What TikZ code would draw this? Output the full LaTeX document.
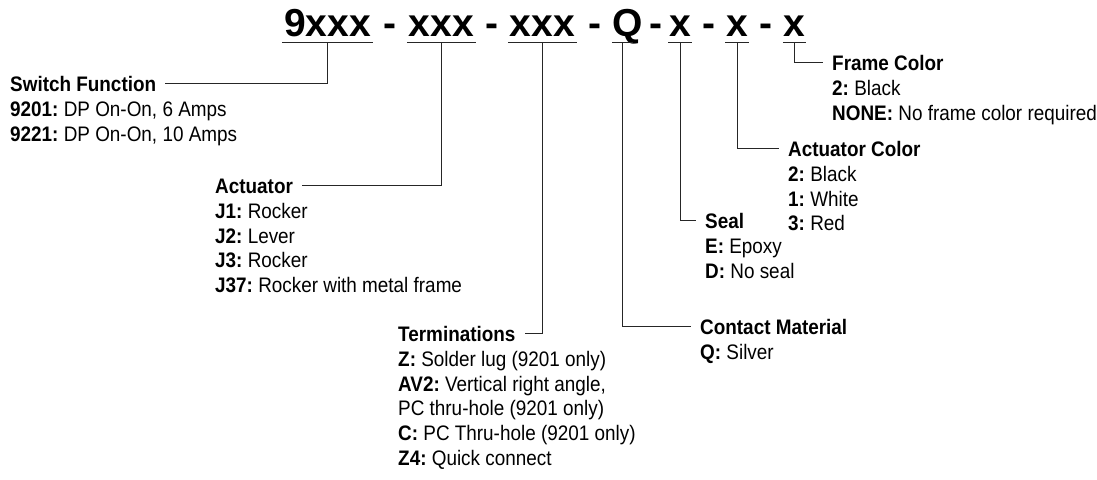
\documentclass[tikz,border=0pt]{standalone}
\usepackage{fontspec}
\setmainfont[FakeStretch=0.9]{Liberation Sans}
\newfontfamily\codefont{Liberation Sans}
\usetikzlibrary{positioning}

\newcommand{\bodysize}{\fontsize{21}{24.7}\selectfont\frenchspacing}

\tikzset{
  codepart/.style={font=\codefont\fontsize{39}{39}\selectfont\bfseries,
    inner sep=0pt, text height=28pt, text depth=0pt, anchor=south, align=center},
  codedash/.style={font=\codefont\fontsize{39}{39}\selectfont\bfseries,
    inner sep=0pt, text depth=0pt, anchor=south},
  hdr/.style={font=\bodysize\bfseries, inner xsep=9pt, inner ysep=0pt,
    text height=15pt, text depth=0pt, anchor=base west},
  optlist/.style={font=\bodysize, inner xsep=9pt, inner ysep=0pt, align=left},
  conn/.style={draw=black!85, line width=1pt}
}

\begin{document}
\begin{tikzpicture}
\useasboundingbox (0,0) rectangle (1097pt,-479pt);

% part number
\node[codepart, text width=91pt] (s1) at (327.5pt,-37pt) {9xxx};
\node[codepart, text width=69pt] (s2) at (441.5pt,-37pt) {xxx};
\node[codepart, text width=69pt] (s3) at (542.5pt,-37pt) {xxx};
\node[codepart, text width=21pt] (s4) at (622.5pt,-37pt) {Q};
\node[codepart, text width=23pt] (s5) at (680pt,-37pt) {x};
\node[codepart, text width=23pt] (s6) at (737pt,-37pt) {x};
\node[codepart, text width=23pt] (s7) at (794.5pt,-37pt) {x};
\foreach \a/\b/\d in {s1/s2/0,s2/s3/0,s3/s4/0,s4/s5/5,s5/s6/0,s6/s7/0}
  \path (\a.south east) -- (\b.south west) node[midway, codedash, xshift=\d pt] {-};
\foreach \s in {s1,s2,s3,s4,s5,s6,s7}
  \draw[conn] ([yshift=-5pt]\s.south west) -- ([yshift=-5pt]\s.south east);

% left fields (list anchor = baseline of its last line)
\node[hdr] (func) at (1pt,-91pt) {Switch Function};
\node[optlist, below=50.2pt of func.base west, anchor=base west] (funclist)
  {\textbf{9201:} DP On-On, 6 Amps\\\textbf{9221:} DP On-On, 10 Amps};

\node[hdr] (act) at (206pt,-193pt) {Actuator};
\node[optlist, below=99.6pt of act.base west, anchor=base west] (actlist)
  {\textbf{J1:} Rocker\\\textbf{J2:} Lever\\\textbf{J3:} Rocker\\\textbf{J37:} Rocker with metal frame};

\node[hdr] (term) at (389pt,-341pt) {Terminations};
\node[optlist, below=124.3pt of term.base west, anchor=base west] (termlist)
  {\textbf{Z:} Solder lug (9201 only)\\\textbf{AV2:} Vertical right angle,\\PC thru-hole (9201 only)\\\textbf{C:} PC Thru-hole (9201 only)\\\textbf{Z4:} Quick connect};

% right fields
\node[hdr] (cont) at (691pt,-334pt) {Contact Material};
\node[optlist, below=25.5pt of cont.base west, anchor=base west] (contlist)
  {\textbf{Q:} Silver};

\node[hdr] (seal) at (696pt,-228pt) {Seal};
\node[optlist, below=50.2pt of seal.base west, anchor=base west] (seallist)
  {\textbf{E:} Epoxy\\\textbf{D:} No seal};

\node[hdr] (acol) at (779pt,-156pt) {Actuator Color};
\node[optlist, below=74.9pt of acol.base west, anchor=base west] (acollist)
  {\textbf{2:} Black\\\textbf{1:} White\\\textbf{3:} Red};

\node[hdr] (fcol) at (823pt,-70pt) {Frame Color};
\node[optlist, below=50.2pt of fcol.base west, anchor=base west] (fcollist)
  {\textbf{2:} Black\\\textbf{NONE:} No frame color required};

% leaders
\draw[conn] ([yshift=-5pt]s1.south) |- (func.east);
\draw[conn] ([yshift=-5pt]s2.south) |- (act.east);
\draw[conn] ([yshift=-5pt]s3.south) |- (term.east);
\draw[conn] ([yshift=-5pt]s4.south) |- (cont.west);
\draw[conn] ([yshift=-5pt]s5.south) |- (seal.west);
\draw[conn] ([yshift=-5pt]s6.south) |- (acol.west);
\draw[conn] ([yshift=-5pt]s7.south) |- (fcol.west);
\end{tikzpicture}
\end{document}
